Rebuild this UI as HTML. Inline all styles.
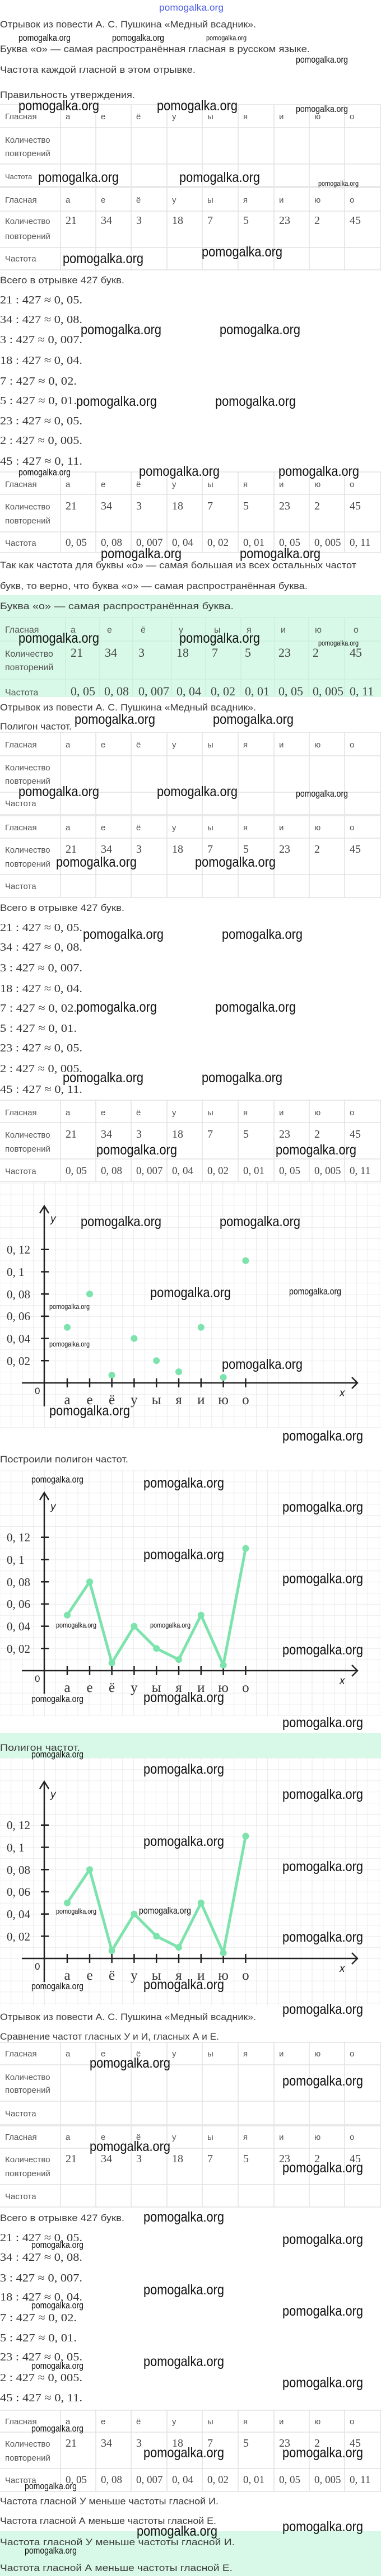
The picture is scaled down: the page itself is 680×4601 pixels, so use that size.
<!DOCTYPE html>
<html><head><meta charset="utf-8"><style>
html,body{margin:0;padding:0;background:#fff;}
svg{display:block}
.t{font-family:"Liberation Sans",sans-serif;font-size:17px;fill:#3a3a3a}
.m{font-family:"Liberation Serif",serif;font-size:20px;fill:#333}
.c{font-family:"Liberation Sans",sans-serif;font-size:15px;fill:#555}
.n{font-family:"Liberation Serif",serif;font-size:20px;fill:#444}
.B{font-family:"Liberation Sans",sans-serif;font-size:25px;fill:#111}
.S{font-family:"Liberation Sans",sans-serif;font-size:17px;fill:#111}
.T{font-family:"Liberation Sans",sans-serif;font-size:13px;fill:#111}
.tl{stroke:#e2e2e2;stroke-width:1.5;fill:none}
.ax{stroke:#222;stroke-width:2.5;fill:none}
.yl{font-family:"Liberation Serif",serif;font-size:21px;fill:#333}
.xl{font-family:"Liberation Serif",serif;font-size:25px;fill:#333;text-anchor:middle}
.it{font-family:"Liberation Sans",sans-serif;font-size:19px;font-style:italic;fill:#222}
</style></head><body>
<svg width="680" height="4601" viewBox="0 0 680 4601" xmlns="http://www.w3.org/2000/svg">
<defs>
<pattern id="gr" x="79" y="0" width="19.9" height="19.85" patternUnits="userSpaceOnUse">
<path d="M0 0H19.9M0 0V19.85" stroke="#e6e6e6" stroke-width="1.6" fill="none"/>
</pattern>
</defs>

<!-- green boxes -->
<rect x="0" y="1063" width="680" height="182" fill="#d9f9e8"/>
<rect x="0" y="3095" width="680" height="45" fill="#d9f9e8"/>
<rect x="0" y="4521" width="680" height="80" fill="#d9f9e8"/>

<!-- header -->
<text x="284" y="19" style="font-family:'Liberation Sans',sans-serif;font-size:17px;fill:#4a5ce8" textLength="115" lengthAdjust="spacingAndGlyphs">pomogalka.org</text>

<!-- text lines -->
<text class="t" x="0" y="49" textLength="457" lengthAdjust="spacingAndGlyphs">Отрывок из повести А. С. Пушкина «Медный всадник».</text>
<text class="t" x="0" y="93" textLength="553" lengthAdjust="spacingAndGlyphs">Буква «о» — самая распространённая гласная в русском языке.</text>
<text class="t" x="0" y="130" textLength="349" lengthAdjust="spacingAndGlyphs">Частота каждой гласной в этом отрывке.</text>
<text class="t" x="0" y="175" textLength="241" lengthAdjust="spacingAndGlyphs">Правильность утверждения.</text>
<text class="t" x="0" y="506" textLength="222" lengthAdjust="spacingAndGlyphs">Всего в отрывке 427 букв.</text>
<text class="t" x="0" y="1015" textLength="636" lengthAdjust="spacingAndGlyphs">Так как частота для буквы «о» — самая большая из всех остальных частот</text>
<text class="t" x="0" y="1052" textLength="549" lengthAdjust="spacingAndGlyphs">букв, то верно, что буква «о» — самая распространённая буква.</text>
<text class="t" x="0" y="1088" textLength="417" lengthAdjust="spacingAndGlyphs">Буква «о» — самая распространённая буква.</text>
<text class="t" x="0" y="1269" textLength="457" lengthAdjust="spacingAndGlyphs">Отрывок из повести А. С. Пушкина «Медный всадник».</text>
<text class="t" x="0" y="1303" textLength="128" lengthAdjust="spacingAndGlyphs">Полигон частот.</text>
<text class="t" x="0" y="1627" textLength="222" lengthAdjust="spacingAndGlyphs">Всего в отрывке 427 букв.</text>
<text class="t" x="0" y="2612" textLength="229" lengthAdjust="spacingAndGlyphs">Построили полигон частот.</text>
<text class="t" x="0" y="3127" textLength="143" lengthAdjust="spacingAndGlyphs">Полигон частот.</text>
<text class="t" x="0" y="3608" textLength="457" lengthAdjust="spacingAndGlyphs">Отрывок из повести А. С. Пушкина «Медный всадник».</text>
<text class="t" x="0" y="3643" textLength="391" lengthAdjust="spacingAndGlyphs">Сравнение частот гласных У и И, гласных А и Е.</text>
<text class="t" x="0" y="3967" textLength="222" lengthAdjust="spacingAndGlyphs">Всего в отрывке 427 букв.</text>
<text class="t" x="0" y="4473" textLength="390" lengthAdjust="spacingAndGlyphs">Частота гласной У меньше частоты гласной И.</text>
<text class="t" x="0" y="4508" textLength="386" lengthAdjust="spacingAndGlyphs">Частота гласной А меньше частоты гласной Е.</text>
<text class="t" x="0" y="4546" textLength="419" lengthAdjust="spacingAndGlyphs">Частота гласной У меньше частоты гласной И.</text>
<text class="t" x="0" y="4592" textLength="415" lengthAdjust="spacingAndGlyphs">Частота гласной А меньше частоты гласной Е.</text>

<!-- equations block 1 -->
<text class="m" x="0" y="542" textLength="147" lengthAdjust="spacingAndGlyphs">21 : 427 ≈ 0, 05.</text>
<text class="m" x="0" y="577" textLength="147" lengthAdjust="spacingAndGlyphs">34 : 427 ≈ 0, 08.</text>
<text class="m" x="0" y="613" textLength="147" lengthAdjust="spacingAndGlyphs">3 : 427 ≈ 0, 007.</text>
<text class="m" x="0" y="650" textLength="147" lengthAdjust="spacingAndGlyphs">18 : 427 ≈ 0, 04.</text>
<text class="m" x="0" y="687" textLength="137" lengthAdjust="spacingAndGlyphs">7 : 427 ≈ 0, 02.</text>
<text class="m" x="0" y="722" textLength="137" lengthAdjust="spacingAndGlyphs">5 : 427 ≈ 0, 01.</text>
<text class="m" x="0" y="758" textLength="147" lengthAdjust="spacingAndGlyphs">23 : 427 ≈ 0, 05.</text>
<text class="m" x="0" y="793" textLength="147" lengthAdjust="spacingAndGlyphs">2 : 427 ≈ 0, 005.</text>
<text class="m" x="0" y="830" textLength="147" lengthAdjust="spacingAndGlyphs">45 : 427 ≈ 0, 11.</text>
<!-- equations block 2 -->
<text class="m" x="0" y="1663" textLength="147" lengthAdjust="spacingAndGlyphs">21 : 427 ≈ 0, 05.</text>
<text class="m" x="0" y="1698" textLength="147" lengthAdjust="spacingAndGlyphs">34 : 427 ≈ 0, 08.</text>
<text class="m" x="0" y="1735" textLength="147" lengthAdjust="spacingAndGlyphs">3 : 427 ≈ 0, 007.</text>
<text class="m" x="0" y="1772" textLength="147" lengthAdjust="spacingAndGlyphs">18 : 427 ≈ 0, 04.</text>
<text class="m" x="0" y="1807" textLength="137" lengthAdjust="spacingAndGlyphs">7 : 427 ≈ 0, 02.</text>
<text class="m" x="0" y="1843" textLength="137" lengthAdjust="spacingAndGlyphs">5 : 427 ≈ 0, 01.</text>
<text class="m" x="0" y="1878" textLength="147" lengthAdjust="spacingAndGlyphs">23 : 427 ≈ 0, 05.</text>
<text class="m" x="0" y="1915" textLength="147" lengthAdjust="spacingAndGlyphs">2 : 427 ≈ 0, 005.</text>
<text class="m" x="0" y="1952" textLength="147" lengthAdjust="spacingAndGlyphs">45 : 427 ≈ 0, 11.</text>
<!-- equations block 3 -->
<text class="m" x="0" y="4003" textLength="147" lengthAdjust="spacingAndGlyphs">21 : 427 ≈ 0, 05.</text>
<text class="m" x="0" y="4038" textLength="147" lengthAdjust="spacingAndGlyphs">34 : 427 ≈ 0, 08.</text>
<text class="m" x="0" y="4075" textLength="147" lengthAdjust="spacingAndGlyphs">3 : 427 ≈ 0, 007.</text>
<text class="m" x="0" y="4109" textLength="147" lengthAdjust="spacingAndGlyphs">18 : 427 ≈ 0, 04.</text>
<text class="m" x="0" y="4146" textLength="137" lengthAdjust="spacingAndGlyphs">7 : 427 ≈ 0, 02.</text>
<text class="m" x="0" y="4182" textLength="137" lengthAdjust="spacingAndGlyphs">5 : 427 ≈ 0, 01.</text>
<text class="m" x="0" y="4216" textLength="147" lengthAdjust="spacingAndGlyphs">23 : 427 ≈ 0, 05.</text>
<text class="m" x="0" y="4253" textLength="147" lengthAdjust="spacingAndGlyphs">2 : 427 ≈ 0, 005.</text>
<text class="m" x="0" y="4289" textLength="147" lengthAdjust="spacingAndGlyphs">45 : 427 ≈ 0, 11.</text>

<!-- ============ TABLES ============ -->
<!-- T1 -->
<path class="tl" d="M0 187H680M0 228H680M0 293H680M0 333H680M108 187V333M171 187V333M234 187V333M298 187V333M361 187V333M425 187V333M489 187V333M552 187V333M615 187V333M679 187V333"/>
<text class="c" x="9" y="213">Гласная</text>
<text class="c" x="117 180 243 307 370 434 498 561 624" y="213">аеёуыяиюо</text>
<text class="c" x="9" y="255">Количество</text><text class="c" x="9" y="279">повторений</text>
<text class="c" x="9" y="320" style="font-size:13px">Частота</text>
<!-- T2 -->
<path class="tl" d="M0 335H680M0 377H680M0 442H680M0 482H680M108 335V482M171 335V482M234 335V482M298 335V482M361 335V482M425 335V482M489 335V482M552 335V482M615 335V482M679 335V482"/>
<text class="c" x="9" y="362">Гласная</text>
<text class="c" x="117 180 243 307 370 434 498 561 624" y="362">аеёуыяиюо</text>
<text class="c" x="9" y="400">Количество</text><text class="c" x="9" y="427">повторений</text>
<text class="n" y="400"><tspan x="117">21</tspan><tspan x="180">34</tspan><tspan x="243">3</tspan><tspan x="307">18</tspan><tspan x="370">7</tspan><tspan x="434">5</tspan><tspan x="498">23</tspan><tspan x="561">2</tspan><tspan x="624">45</tspan></text>
<text class="c" x="9" y="467">Частота</text>
<!-- T3 -->
<path class="tl" d="M0 843H680M0 883H680M0 950H680M0 987H680M108 843V987M171 843V987M234 843V987M298 843V987M361 843V987M425 843V987M489 843V987M552 843V987M615 843V987M679 843V987"/>
<text class="c" x="9" y="870">Гласная</text>
<text class="c" x="117 180 243 307 370 434 498 561 624" y="870">аеёуыяиюо</text>
<text class="c" x="9" y="910">Количество</text><text class="c" x="9" y="935">повторений</text>
<text class="n" y="910"><tspan x="117">21</tspan><tspan x="180">34</tspan><tspan x="243">3</tspan><tspan x="307">18</tspan><tspan x="370">7</tspan><tspan x="434">5</tspan><tspan x="498">23</tspan><tspan x="561">2</tspan><tspan x="624">45</tspan></text>
<text class="c" x="9" y="975">Частота</text>
<text class="n" y="975" style="font-size:19px"><tspan x="117">0, 05</tspan><tspan x="180">0, 08</tspan><tspan x="243">0, 007</tspan><tspan x="307">0, 04</tspan><tspan x="370">0, 02</tspan><tspan x="434">0, 01</tspan><tspan x="498">0, 05</tspan><tspan x="561">0, 005</tspan><tspan x="624">0, 11</tspan></text>
<!-- Green table -->
<path d="M0 1103H680M0 1145H680M0 1213H680M117 1103V1245M178 1103V1245M237 1103V1245M306 1103V1245M367 1103V1245M430 1103V1245M490 1103V1245M551 1103V1245M615 1103V1245" stroke="#c9efd9" stroke-width="1.5" fill="none"/>
<text class="c" x="9" y="1130" style="font-size:16px">Гласная</text>
<text class="c" x="126 191 251 319 382 440 501 562 631" y="1130" style="font-size:16px">аеёуыяиюо</text>
<text class="c" x="9" y="1173" style="font-size:16px">Количество</text><text class="c" x="9" y="1197" style="font-size:16px">повторений</text>
<text class="n" y="1173" style="font-size:22px"><tspan x="126">21</tspan><tspan x="187">34</tspan><tspan x="247">3</tspan><tspan x="315">18</tspan><tspan x="378">7</tspan><tspan x="437">5</tspan><tspan x="497">23</tspan><tspan x="558">2</tspan><tspan x="624">45</tspan></text>
<text class="c" x="9" y="1242" style="font-size:16px">Частота</text>
<text class="n" y="1242" style="font-size:22px"><tspan x="126">0, 05</tspan><tspan x="186">0, 08</tspan><tspan x="247">0, 007</tspan><tspan x="315">0, 04</tspan><tspan x="376">0, 02</tspan><tspan x="437">0, 01</tspan><tspan x="497">0, 05</tspan><tspan x="558">0, 005</tspan><tspan x="624">0, 11</tspan></text>
<rect x="0" y="1245" width="680" height="8" fill="#fff"/>
<!-- T4 -->
<path class="tl" d="M0 1308H680M0 1350H680M0 1415H680M0 1455H680M108 1308V1455M171 1308V1455M234 1308V1455M298 1308V1455M361 1308V1455M425 1308V1455M489 1308V1455M552 1308V1455M615 1308V1455M679 1308V1455"/>
<text class="c" x="9" y="1335">Гласная</text>
<text class="c" x="117 180 243 307 370 434 498 561 624" y="1335">аеёуыяиюо</text>
<text class="c" x="9" y="1376">Количество</text><text class="c" x="9" y="1400">повторений</text>
<text class="c" x="9" y="1440">Частота</text>
<!-- T5 -->
<path class="tl" d="M0 1457H680M0 1497H680M0 1562H680M0 1603H680M108 1457V1603M171 1457V1603M234 1457V1603M298 1457V1603M361 1457V1603M425 1457V1603M489 1457V1603M552 1457V1603M615 1457V1603M679 1457V1603"/>
<text class="c" x="9" y="1483">Гласная</text>
<text class="c" x="117 180 243 307 370 434 498 561 624" y="1483">аеёуыяиюо</text>
<text class="c" x="9" y="1523">Количество</text><text class="c" x="9" y="1548">повторений</text>
<text class="n" y="1523"><tspan x="117">21</tspan><tspan x="180">34</tspan><tspan x="243">3</tspan><tspan x="307">18</tspan><tspan x="370">7</tspan><tspan x="434">5</tspan><tspan x="498">23</tspan><tspan x="561">2</tspan><tspan x="624">45</tspan></text>
<text class="c" x="9" y="1588">Частота</text>
<!-- T6 -->
<path class="tl" d="M0 1965H680M0 2005H680M0 2070H680M0 2110H680M108 1965V2110M171 1965V2110M234 1965V2110M298 1965V2110M361 1965V2110M425 1965V2110M489 1965V2110M552 1965V2110M615 1965V2110M679 1965V2110"/>
<text class="c" x="9" y="1992">Гласная</text>
<text class="c" x="117 180 243 307 370 434 498 561 624" y="1992">аеёуыяиюо</text>
<text class="c" x="9" y="2032">Количество</text><text class="c" x="9" y="2057">повторений</text>
<text class="n" y="2032"><tspan x="117">21</tspan><tspan x="180">34</tspan><tspan x="243">3</tspan><tspan x="307">18</tspan><tspan x="370">7</tspan><tspan x="434">5</tspan><tspan x="498">23</tspan><tspan x="561">2</tspan><tspan x="624">45</tspan></text>
<text class="c" x="9" y="2097">Частота</text>
<text class="n" y="2097" style="font-size:19px"><tspan x="117">0, 05</tspan><tspan x="180">0, 08</tspan><tspan x="243">0, 007</tspan><tspan x="307">0, 04</tspan><tspan x="370">0, 02</tspan><tspan x="434">0, 01</tspan><tspan x="498">0, 05</tspan><tspan x="561">0, 005</tspan><tspan x="624">0, 11</tspan></text>
<!-- T7 -->
<path class="tl" d="M0 3648H680M0 3688H680M0 3753H680M0 3795H680M108 3648V3795M171 3648V3795M234 3648V3795M298 3648V3795M361 3648V3795M425 3648V3795M489 3648V3795M552 3648V3795M615 3648V3795M679 3648V3795"/>
<text class="c" x="9" y="3673">Гласная</text>
<text class="c" x="117 180 243 307 370 434 498 561 624" y="3673">аеёуыяиюо</text>
<text class="c" x="9" y="3715">Количество</text><text class="c" x="9" y="3738">повторений</text>
<text class="c" x="9" y="3780">Частота</text>
<!-- T8 -->
<path class="tl" d="M0 3797H680M0 3837H680M0 3902H680M0 3942H680M108 3797V3942M171 3797V3942M234 3797V3942M298 3797V3942M361 3797V3942M425 3797V3942M489 3797V3942M552 3797V3942M615 3797V3942M679 3797V3942"/>
<text class="c" x="9" y="3822">Гласная</text>
<text class="c" x="117 180 243 307 370 434 498 561 624" y="3822">аеёуыяиюо</text>
<text class="c" x="9" y="3862">Количество</text><text class="c" x="9" y="3887">повторений</text>
<text class="n" y="3862"><tspan x="117">21</tspan><tspan x="180">34</tspan><tspan x="243">3</tspan><tspan x="307">18</tspan><tspan x="370">7</tspan><tspan x="434">5</tspan><tspan x="498">23</tspan><tspan x="561">2</tspan><tspan x="624">45</tspan></text>
<text class="c" x="9" y="3928">Частота</text>
<!-- T9 -->
<path class="tl" d="M0 4305H680M0 4344H680M0 4409H680M0 4450H680M108 4305V4450M171 4305V4450M234 4305V4450M298 4305V4450M361 4305V4450M425 4305V4450M489 4305V4450M552 4305V4450M615 4305V4450M679 4305V4450"/>
<text class="c" x="9" y="4330">Гласная</text>
<text class="c" x="117 180 243 307 370 434 498 561 624" y="4330">аеёуыяиюо</text>
<text class="c" x="9" y="4370">Количество</text><text class="c" x="9" y="4395">повторений</text>
<text class="n" y="4370"><tspan x="117">21</tspan><tspan x="180">34</tspan><tspan x="243">3</tspan><tspan x="307">18</tspan><tspan x="370">7</tspan><tspan x="434">5</tspan><tspan x="498">23</tspan><tspan x="561">2</tspan><tspan x="624">45</tspan></text>
<text class="c" x="9" y="4435">Частота</text>
<text class="n" y="4435" style="font-size:19px"><tspan x="117">0, 05</tspan><tspan x="180">0, 08</tspan><tspan x="243">0, 007</tspan><tspan x="307">0, 04</tspan><tspan x="370">0, 02</tspan><tspan x="434">0, 01</tspan><tspan x="498">0, 05</tspan><tspan x="561">0, 005</tspan><tspan x="624">0, 11</tspan></text>

<!-- ============ GRAPH 1 ============ -->
<g transform="translate(0,2470)">
<rect x="0" y="-360" width="680" height="80" fill="url(#gr)"/>
<rect x="0" y="-280" width="680" height="360" fill="url(#gr)"/>
<path class="ax" d="M79 -315V42M71 -303L79 -316L87 -303M39 0H637M628 -10L638 0L628 10"/>
<path class="ax" d="M73 -238.2H87M73 -198.5H87M73 -158.8H87M73 -119.1H87M73 -79.4H87M73 -39.7H87M120 -8V8M160 -8V8M199.6 -8V8M239.4 -8V8M279.2 -8V8M319 -8V8M358.8 -8V8M398.6 -8V8M438.4 -8V8"/>
<text class="it" x="90" y="-287">y</text><text class="it" x="606" y="24">x</text>
<text x="62" y="20" style="font-family:'Liberation Sans',sans-serif;font-size:17px;fill:#222">0</text>
<text class="yl" x="12" y="-231">0, 12</text><text class="yl" x="12" y="-191">0, 1</text><text class="yl" x="12" y="-151">0, 08</text><text class="yl" x="12" y="-112">0, 06</text><text class="yl" x="12" y="-72">0, 04</text><text class="yl" x="12" y="-32">0, 02</text>
<text class="xl" x="120 160 199.6 239.4 279.2 319 358.8 398.6 438.4" y="38">аеёуыяиюо</text>
<g fill="#7de3ad"><circle cx="120" cy="-99.3" r="6"/><circle cx="160" cy="-158.8" r="6"/><circle cx="199.6" cy="-13.9" r="6"/><circle cx="239.4" cy="-79.4" r="6"/><circle cx="279.2" cy="-39.7" r="6"/><circle cx="319" cy="-19.9" r="6"/><circle cx="358.8" cy="-99.3" r="6"/><circle cx="398.6" cy="-9.9" r="6"/><circle cx="438.4" cy="-218.4" r="6"/></g>
</g>

<!-- ============ GRAPH 2 ============ -->
<g transform="translate(0,2984)">
<rect x="0" y="-359" width="680" height="440" fill="url(#gr)"/>
<path class="ax" d="M79 -317V41M71 -305L79 -318L87 -305M39 0H637M628 -10L638 0L628 10"/>
<path class="ax" d="M73 -238.2H87M73 -198.5H87M73 -158.8H87M73 -119.1H87M73 -79.4H87M73 -39.7H87M120 -8V8M160 -8V8M199.6 -8V8M239.4 -8V8M279.2 -8V8M319 -8V8M358.8 -8V8M398.6 -8V8M438.4 -8V8"/>
<text class="it" x="90" y="-287">y</text><text class="it" x="606" y="24">x</text>
<text x="62" y="20" style="font-family:'Liberation Sans',sans-serif;font-size:17px;fill:#222">0</text>
<text class="yl" x="12" y="-231">0, 12</text><text class="yl" x="12" y="-191">0, 1</text><text class="yl" x="12" y="-151">0, 08</text><text class="yl" x="12" y="-112">0, 06</text><text class="yl" x="12" y="-72">0, 04</text><text class="yl" x="12" y="-32">0, 02</text>
<text class="xl" x="120 160 199.6 239.4 279.2 319 358.8 398.6 438.4" y="38">аеёуыяиюо</text>
<polyline points="120,-99.3 160,-158.8 199.6,-13.9 239.4,-79.4 279.2,-39.7 319,-19.9 358.8,-99.3 398.6,-9.9 438.4,-218.4" fill="none" stroke="#7de3ad" stroke-width="5" stroke-linejoin="round"/>
<g fill="#7de3ad"><circle cx="120" cy="-99.3" r="6"/><circle cx="160" cy="-158.8" r="6"/><circle cx="199.6" cy="-13.9" r="6"/><circle cx="239.4" cy="-79.4" r="6"/><circle cx="279.2" cy="-39.7" r="6"/><circle cx="319" cy="-19.9" r="6"/><circle cx="358.8" cy="-99.3" r="6"/><circle cx="398.6" cy="-9.9" r="6"/><circle cx="438.4" cy="-218.4" r="6"/></g>
</g>

<!-- ============ GRAPH 3 ============ -->
<g transform="translate(0,3498)">
<rect x="0" y="-358" width="680" height="442" fill="url(#gr)"/>
<path class="ax" d="M79 -315V42M71 -303L79 -316L87 -303M39 0H637M628 -10L638 0L628 10"/>
<path class="ax" d="M73 -238.2H87M73 -198.5H87M73 -158.8H87M73 -119.1H87M73 -79.4H87M73 -39.7H87M120 -8V8M160 -8V8M199.6 -8V8M239.4 -8V8M279.2 -8V8M319 -8V8M358.8 -8V8M398.6 -8V8M438.4 -8V8"/>
<text class="it" x="90" y="-287">y</text><text class="it" x="606" y="24">x</text>
<text x="62" y="20" style="font-family:'Liberation Sans',sans-serif;font-size:17px;fill:#222">0</text>
<text class="yl" x="12" y="-231">0, 12</text><text class="yl" x="12" y="-191">0, 1</text><text class="yl" x="12" y="-151">0, 08</text><text class="yl" x="12" y="-112">0, 06</text><text class="yl" x="12" y="-72">0, 04</text><text class="yl" x="12" y="-32">0, 02</text>
<text class="xl" x="120 160 199.6 239.4 279.2 319 358.8 398.6 438.4" y="38">аеёуыяиюо</text>
<polyline points="120,-99.3 160,-158.8 199.6,-13.9 239.4,-79.4 279.2,-39.7 319,-19.9 358.8,-99.3 398.6,-9.9 438.4,-218.4" fill="none" stroke="#7de3ad" stroke-width="5" stroke-linejoin="round"/>
<g fill="#7de3ad"><circle cx="120" cy="-99.3" r="6"/><circle cx="160" cy="-158.8" r="6"/><circle cx="199.6" cy="-13.9" r="6"/><circle cx="239.4" cy="-79.4" r="6"/><circle cx="279.2" cy="-39.7" r="6"/><circle cx="319" cy="-19.9" r="6"/><circle cx="358.8" cy="-99.3" r="6"/><circle cx="398.6" cy="-9.9" r="6"/><circle cx="438.4" cy="-218.4" r="6"/></g>
</g>

<!-- ============ WATERMARKS ============ -->
<g>
<text class="S" x="33" y="73" textLength="93" lengthAdjust="spacingAndGlyphs">pomogalka.org</text>
<text class="S" x="200" y="73" textLength="93" lengthAdjust="spacingAndGlyphs">pomogalka.org</text>
<text class="T" x="368" y="72" textLength="72" lengthAdjust="spacingAndGlyphs">pomogalka.org</text>
<text class="S" x="528" y="112" textLength="93" lengthAdjust="spacingAndGlyphs">pomogalka.org</text>
<text class="B" x="33" y="197" textLength="144" lengthAdjust="spacingAndGlyphs">pomogalka.org</text>
<text class="B" x="280" y="197" textLength="144" lengthAdjust="spacingAndGlyphs">pomogalka.org</text>
<text class="S" x="528" y="200" textLength="93" lengthAdjust="spacingAndGlyphs">pomogalka.org</text>
<text class="B" x="68" y="325" textLength="144" lengthAdjust="spacingAndGlyphs">pomogalka.org</text>
<text class="B" x="320" y="325" textLength="144" lengthAdjust="spacingAndGlyphs">pomogalka.org</text>
<text class="T" x="568" y="332" textLength="72" lengthAdjust="spacingAndGlyphs">pomogalka.org</text>
<text class="B" x="112" y="470" textLength="144" lengthAdjust="spacingAndGlyphs">pomogalka.org</text>
<text class="B" x="360" y="458" textLength="144" lengthAdjust="spacingAndGlyphs">pomogalka.org</text>
<text class="B" x="144" y="597" textLength="144" lengthAdjust="spacingAndGlyphs">pomogalka.org</text>
<text class="B" x="392" y="597" textLength="144" lengthAdjust="spacingAndGlyphs">pomogalka.org</text>
<text class="B" x="136" y="725" textLength="144" lengthAdjust="spacingAndGlyphs">pomogalka.org</text>
<text class="B" x="384" y="725" textLength="144" lengthAdjust="spacingAndGlyphs">pomogalka.org</text>
<text class="S" x="33" y="849" textLength="93" lengthAdjust="spacingAndGlyphs">pomogalka.org</text>
<text class="B" x="248" y="850" textLength="144" lengthAdjust="spacingAndGlyphs">pomogalka.org</text>
<text class="B" x="497" y="850" textLength="144" lengthAdjust="spacingAndGlyphs">pomogalka.org</text>
<text class="B" x="180" y="997" textLength="144" lengthAdjust="spacingAndGlyphs">pomogalka.org</text>
<text class="B" x="428" y="997" textLength="144" lengthAdjust="spacingAndGlyphs">pomogalka.org</text>
<text class="B" x="33" y="1148" textLength="144" lengthAdjust="spacingAndGlyphs">pomogalka.org</text>
<text class="B" x="320" y="1148" textLength="144" lengthAdjust="spacingAndGlyphs">pomogalka.org</text>
<text class="T" x="568" y="1153" textLength="72" lengthAdjust="spacingAndGlyphs">pomogalka.org</text>
<text class="B" x="133" y="1293" textLength="144" lengthAdjust="spacingAndGlyphs">pomogalka.org</text>
<text class="B" x="380" y="1293" textLength="144" lengthAdjust="spacingAndGlyphs">pomogalka.org</text>
<text class="B" x="33" y="1422" textLength="144" lengthAdjust="spacingAndGlyphs">pomogalka.org</text>
<text class="B" x="280" y="1422" textLength="144" lengthAdjust="spacingAndGlyphs">pomogalka.org</text>
<text class="S" x="528" y="1423" textLength="93" lengthAdjust="spacingAndGlyphs">pomogalka.org</text>
<text class="B" x="100" y="1548" textLength="144" lengthAdjust="spacingAndGlyphs">pomogalka.org</text>
<text class="B" x="348" y="1548" textLength="144" lengthAdjust="spacingAndGlyphs">pomogalka.org</text>
<text class="B" x="148" y="1677" textLength="144" lengthAdjust="spacingAndGlyphs">pomogalka.org</text>
<text class="B" x="396" y="1677" textLength="144" lengthAdjust="spacingAndGlyphs">pomogalka.org</text>
<text class="B" x="136" y="1807" textLength="144" lengthAdjust="spacingAndGlyphs">pomogalka.org</text>
<text class="B" x="384" y="1807" textLength="144" lengthAdjust="spacingAndGlyphs">pomogalka.org</text>
<text class="B" x="112" y="1933" textLength="144" lengthAdjust="spacingAndGlyphs">pomogalka.org</text>
<text class="B" x="360" y="1933" textLength="144" lengthAdjust="spacingAndGlyphs">pomogalka.org</text>
<text class="B" x="172" y="2062" textLength="144" lengthAdjust="spacingAndGlyphs">pomogalka.org</text>
<text class="B" x="492" y="2062" textLength="144" lengthAdjust="spacingAndGlyphs">pomogalka.org</text>
<text class="B" x="144" y="2190" textLength="144" lengthAdjust="spacingAndGlyphs">pomogalka.org</text>
<text class="B" x="392" y="2190" textLength="144" lengthAdjust="spacingAndGlyphs">pomogalka.org</text>
<text class="B" x="268" y="2317" textLength="144" lengthAdjust="spacingAndGlyphs">pomogalka.org</text>
<text class="S" x="516" y="2312" textLength="93" lengthAdjust="spacingAndGlyphs">pomogalka.org</text>
<text class="T" x="88" y="2338" textLength="72" lengthAdjust="spacingAndGlyphs">pomogalka.org</text>
<text class="T" x="88" y="2405" textLength="72" lengthAdjust="spacingAndGlyphs">pomogalka.org</text>
<text class="B" x="396" y="2445" textLength="144" lengthAdjust="spacingAndGlyphs">pomogalka.org</text>
<text class="B" x="88" y="2528" textLength="144" lengthAdjust="spacingAndGlyphs">pomogalka.org</text>
<text class="B" x="504" y="2573" textLength="144" lengthAdjust="spacingAndGlyphs">pomogalka.org</text>
<text class="S" x="56" y="2648" textLength="93" lengthAdjust="spacingAndGlyphs">pomogalka.org</text>
<text class="B" x="256" y="2657" textLength="144" lengthAdjust="spacingAndGlyphs">pomogalka.org</text>
<text class="B" x="504" y="2700" textLength="144" lengthAdjust="spacingAndGlyphs">pomogalka.org</text>
<text class="B" x="256" y="2785" textLength="144" lengthAdjust="spacingAndGlyphs">pomogalka.org</text>
<text class="B" x="504" y="2828" textLength="144" lengthAdjust="spacingAndGlyphs">pomogalka.org</text>
<text class="T" x="100" y="2907" textLength="72" lengthAdjust="spacingAndGlyphs">pomogalka.org</text>
<text class="T" x="268" y="2907" textLength="72" lengthAdjust="spacingAndGlyphs">pomogalka.org</text>
<text class="B" x="504" y="2955" textLength="144" lengthAdjust="spacingAndGlyphs">pomogalka.org</text>
<text class="S" x="56" y="3040" textLength="93" lengthAdjust="spacingAndGlyphs">pomogalka.org</text>
<text class="B" x="256" y="3040" textLength="144" lengthAdjust="spacingAndGlyphs">pomogalka.org</text>
<text class="B" x="504" y="3085" textLength="144" lengthAdjust="spacingAndGlyphs">pomogalka.org</text>
<text class="S" x="56" y="3139" textLength="93" lengthAdjust="spacingAndGlyphs">pomogalka.org</text>
<text class="B" x="256" y="3168" textLength="144" lengthAdjust="spacingAndGlyphs">pomogalka.org</text>
<text class="B" x="504" y="3213" textLength="144" lengthAdjust="spacingAndGlyphs">pomogalka.org</text>
<text class="B" x="256" y="3297" textLength="144" lengthAdjust="spacingAndGlyphs">pomogalka.org</text>
<text class="B" x="504" y="3342" textLength="144" lengthAdjust="spacingAndGlyphs">pomogalka.org</text>
<text class="T" x="100" y="3418" textLength="72" lengthAdjust="spacingAndGlyphs">pomogalka.org</text>
<text class="S" x="248" y="3418" textLength="93" lengthAdjust="spacingAndGlyphs">pomogalka.org</text>
<text class="B" x="504" y="3468" textLength="144" lengthAdjust="spacingAndGlyphs">pomogalka.org</text>
<text class="S" x="56" y="3553" textLength="93" lengthAdjust="spacingAndGlyphs">pomogalka.org</text>
<text class="B" x="256" y="3553" textLength="144" lengthAdjust="spacingAndGlyphs">pomogalka.org</text>
<text class="B" x="504" y="3597" textLength="144" lengthAdjust="spacingAndGlyphs">pomogalka.org</text>
<text class="B" x="160" y="3693" textLength="144" lengthAdjust="spacingAndGlyphs">pomogalka.org</text>
<text class="B" x="504" y="3725" textLength="144" lengthAdjust="spacingAndGlyphs">pomogalka.org</text>
<text class="B" x="160" y="3842" textLength="144" lengthAdjust="spacingAndGlyphs">pomogalka.org</text>
<text class="B" x="504" y="3880" textLength="144" lengthAdjust="spacingAndGlyphs">pomogalka.org</text>
<text class="B" x="256" y="3968" textLength="144" lengthAdjust="spacingAndGlyphs">pomogalka.org</text>
<text class="B" x="504" y="4008" textLength="144" lengthAdjust="spacingAndGlyphs">pomogalka.org</text>
<text class="S" x="56" y="4015" textLength="93" lengthAdjust="spacingAndGlyphs">pomogalka.org</text>
<text class="B" x="256" y="4098" textLength="144" lengthAdjust="spacingAndGlyphs">pomogalka.org</text>
<text class="S" x="56" y="4123" textLength="93" lengthAdjust="spacingAndGlyphs">pomogalka.org</text>
<text class="B" x="504" y="4136" textLength="144" lengthAdjust="spacingAndGlyphs">pomogalka.org</text>
<text class="B" x="256" y="4226" textLength="144" lengthAdjust="spacingAndGlyphs">pomogalka.org</text>
<text class="S" x="56" y="4231" textLength="93" lengthAdjust="spacingAndGlyphs">pomogalka.org</text>
<text class="B" x="504" y="4264" textLength="144" lengthAdjust="spacingAndGlyphs">pomogalka.org</text>
<text class="S" x="56" y="4343" textLength="93" lengthAdjust="spacingAndGlyphs">pomogalka.org</text>
<text class="B" x="256" y="4389" textLength="144" lengthAdjust="spacingAndGlyphs">pomogalka.org</text>
<text class="B" x="504" y="4389" textLength="144" lengthAdjust="spacingAndGlyphs">pomogalka.org</text>
<text class="S" x="44" y="4446" textLength="93" lengthAdjust="spacingAndGlyphs">pomogalka.org</text>
<text class="B" x="504" y="4521" textLength="144" lengthAdjust="spacingAndGlyphs">pomogalka.org</text>
<text class="B" x="244" y="4529" textLength="144" lengthAdjust="spacingAndGlyphs">pomogalka.org</text>
<text class="S" x="44" y="4561" textLength="93" lengthAdjust="spacingAndGlyphs">pomogalka.org</text>
</g>
</svg>
</body></html>
